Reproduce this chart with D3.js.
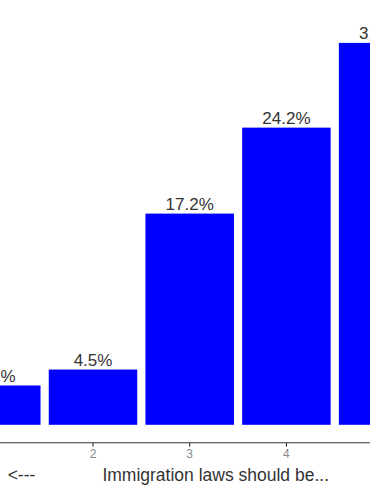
<!DOCTYPE html>
<html>
<head>
<meta charset="utf-8">
<script src="https://cdn.jsdelivr.net/npm/d3@7"></script>
<style>
	body { margin: 0; background: #fff; }
	text { font-family: "Liberation Sans", Arial, sans-serif; }
</style>
</head>
<body>
<div id="chart"></div>
<script>
// data
var categories = ["1", "2", "3", "4", "5"];
var shares = [3.2, 4.5, 17.2, 24.2, 31.1];
var shareLabels = ["3.2%", "4.5%", "17.2%", "24.2%", "31.1%"];
var tickLabels = ["1", "2", "3", "4", "5"];

var width = 370,
	height = 490;

var svg = d3.select("#chart")
	.append("svg")
		.attr("width", width)
		.attr("height", height);

var step = 96.7;

// band scale, first band centred just off the left edge
var x = d3.scaleBand()
	.domain(categories)
	.range([-3.7 - step / 2, -3.7 - step / 2 + step * categories.length])
	.paddingInner(0.085)
	.paddingOuter(0.0425);

var y = d3.scaleLinear()
	.domain([0, 35])
	.range([424.8, 424.8 - 35 * 12.28]);

var data = categories.map(function(c, i){
	return { cat: c, value: shares[i], label: shareLabels[i] };
});

// bars
svg.selectAll("rect.bar")
	.data(data)
	.enter()
	.append("rect")
		.attr("class", "bar")
		.attr("x", function(d){ return x(d.cat); })
		.attr("y", function(d){ return y(d.value); })
		.attr("width", x.bandwidth())
		.attr("height", function(d){ return y(0) - y(d.value); })
		.attr("fill", "#0000ff");

// value labels
svg.selectAll("text.val")
	.data(data)
	.enter()
	.append("text")
		.attr("class", "val")
		.attr("x", function(d){ return x(d.cat) + x.bandwidth() / 2; })
		.attr("y", function(d){ return y(d.value) - 4; })
		.attr("text-anchor", "middle")
		.attr("font-size", "17px")
		.attr("fill", "#333333")
		.text(function(d){ return d.label; });

// x axis
var xAxisCall = d3.axisBottom(x)
	.tickSize(4)
	.tickPadding(3)
	.tickFormat(function(d, i){ return tickLabels[i]; });

var xAxis = svg.append("g")
	.attr("class", "x axis")
	.attr("transform", "translate(0, 442.7)")
	.call(xAxisCall);

xAxis.select(".domain").remove();
xAxis.append("line")
	.attr("x1", 0)
	.attr("x2", width)
	.attr("stroke", "#333333")
	.attr("stroke-width", 1.1);
xAxis.selectAll(".tick line")
	.attr("stroke", "#333333")
	.attr("stroke-width", 1.1);
xAxis.selectAll(".tick text")
	.attr("font-size", "12px")
	.attr("fill", "#8a8a8a")
	.style("font-family", "'Liberation Sans', Arial, sans-serif");

// axis titles
svg.append("text")
	.attr("x", 21.5)
	.attr("y", 481)
	.attr("text-anchor", "middle")
	.attr("font-size", "17.5px")
	.attr("fill", "#333333")
	.text("<---");

svg.append("text")
	.attr("x", 215.7)
	.attr("y", 481)
	.attr("text-anchor", "middle")
	.attr("font-size", "17.5px")
	.attr("fill", "#333333")
	.text("Immigration laws should be...");
</script>
</body>
</html>
